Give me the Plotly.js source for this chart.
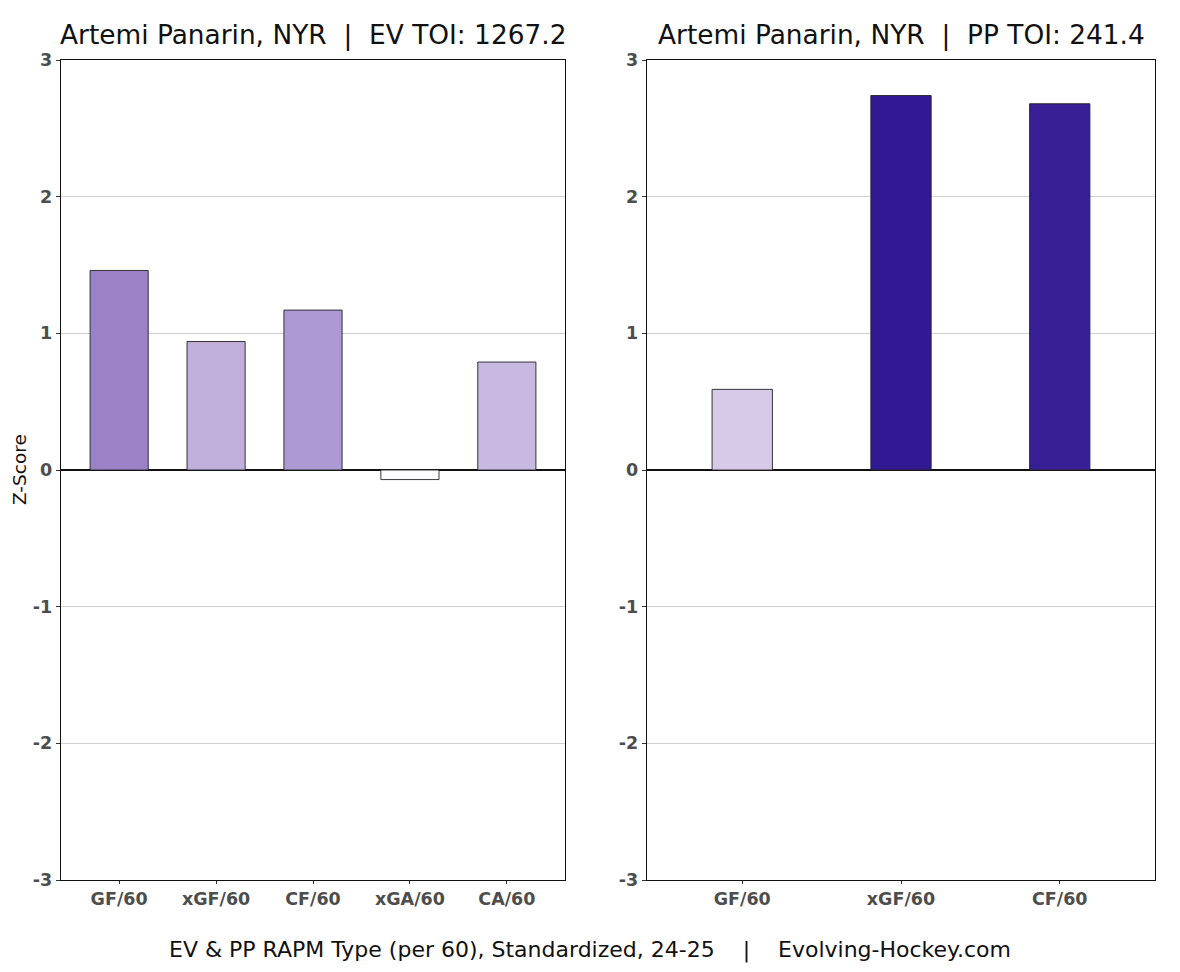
<!DOCTYPE html>
<html>
<head>
<meta charset="utf-8">
<script src="https://cdn.plot.ly/plotly-3.0.1.min.js"></script>
<style>html,body{margin:0;padding:0;background:#fff;}#chart{width:1180px;height:972px;}</style>
</head>
<body>
<div id="chart"></div>
<script>
const evCategories = ["GF/60", "xGF/60", "CF/60", "xGA/60", "CA/60"];
const evValues = [1.46, 0.94, 1.17, -0.07, 0.79];
const evColors = ["#9b82c7", "#c0aedb", "#ac98d3", "#fdfcfe", "#c9b9e1"];
const ppCategories = ["GF/60", "xGF/60", "CF/60"];
const ppValues = [0.59, 2.74, 2.68];
const ppColors = ["#d7cae9", "#321994", "#371f95"];
const yTicks = [-3, -2, -1, 0, 1, 2, 3];
const evTitle = "Artemi Panarin, NYR  |  EV TOI: 1267.2";
const ppTitle = "Artemi Panarin, NYR  |  PP TOI: 241.4";
const yTitle = "Z-Score";
const caption = "EV & PP RAPM Type (per 60), Standardized, 24-25    |    Evolving-Hockey.com";

const W = 1180, H = 972;
const tickFont = {family: "DejaVu Sans", size: 17.5, color: "#4d4d4d", weight: "bold"};

const traces = [
  {type: "bar", x: evCategories, y: evValues, xaxis: "x", yaxis: "y", width: 0.6,
   marker: {color: evColors, line: {color: "#222", width: 0.9}}, hoverinfo: "x+y"},
  {type: "bar", x: ppCategories, y: ppValues, xaxis: "x2", yaxis: "y2", width: 0.38,
   marker: {color: ppColors, line: {color: "#222", width: 0.9}}, hoverinfo: "x+y"}
];

function xa(domain, n) {
  return {domain: domain, type: "category", range: [-0.6, n - 0.4], showgrid: false,
    showline: true, linecolor: "#111", linewidth: 1.3, mirror: true,
    ticks: "outside", ticklen: 3, tickcolor: "#333", tickwidth: 1,
    tickfont: tickFont, fixedrange: true};
}
function ya(domain, anchor) {
  return {domain: domain, anchor: anchor, range: [-3, 3], tickvals: yTicks, ticktext: yTicks.map(String),
    showgrid: true, gridcolor: "#d0d0d0", gridwidth: 1,
    zeroline: true, zerolinecolor: "#111", zerolinewidth: 1.4,
    showline: true, linecolor: "#111", linewidth: 1.3, mirror: true,
    ticks: "outside", ticklen: 4, tickcolor: "#333", tickwidth: 1,
    tickfont: tickFont, fixedrange: true};
}

const yDom = [1 - 880 / H, 1 - 60 / H];
const layout = {
  width: W, height: H,
  margin: {l: 0, r: 0, t: 0, b: 0},
  paper_bgcolor: "#fff", plot_bgcolor: "#fff",
  showlegend: false,
  bargap: 0,
  xaxis: Object.assign(xa([61 / W, 565 / W], 5), {anchor: "y"}),
  yaxis: ya(yDom, "x"),
  xaxis2: Object.assign(xa([647 / W, 1155 / W], 3), {anchor: "y2"}),
  yaxis2: ya(yDom, "x2"),
  annotations: [
    {text: evTitle, xref: "paper", yref: "paper", x: 313 / W, y: 1 - 35 / H, xanchor: "center", yanchor: "middle",
     showarrow: false, font: {family: "DejaVu Sans", size: 26.4, color: "#111"}},
    {text: ppTitle, xref: "paper", yref: "paper", x: 901 / W, y: 1 - 35 / H, xanchor: "center", yanchor: "middle",
     showarrow: false, font: {family: "DejaVu Sans", size: 26.4, color: "#111"}},
    {text: yTitle, xref: "paper", yref: "paper", x: 19 / W, y: 1 - 470 / H, xanchor: "center", yanchor: "middle",
     textangle: -90, showarrow: false, font: {family: "DejaVu Sans", size: 18.5, color: "#111"}},
    {text: caption, xref: "paper", yref: "paper", x: 590 / W, y: 1 - 950 / H, xanchor: "center", yanchor: "middle",
     showarrow: false, font: {family: "DejaVu Sans", size: 22, color: "#111"}}
  ]
};

Plotly.newPlot("chart", traces, layout, {displayModeBar: false, staticPlot: true});
</script>
</body>
</html>
